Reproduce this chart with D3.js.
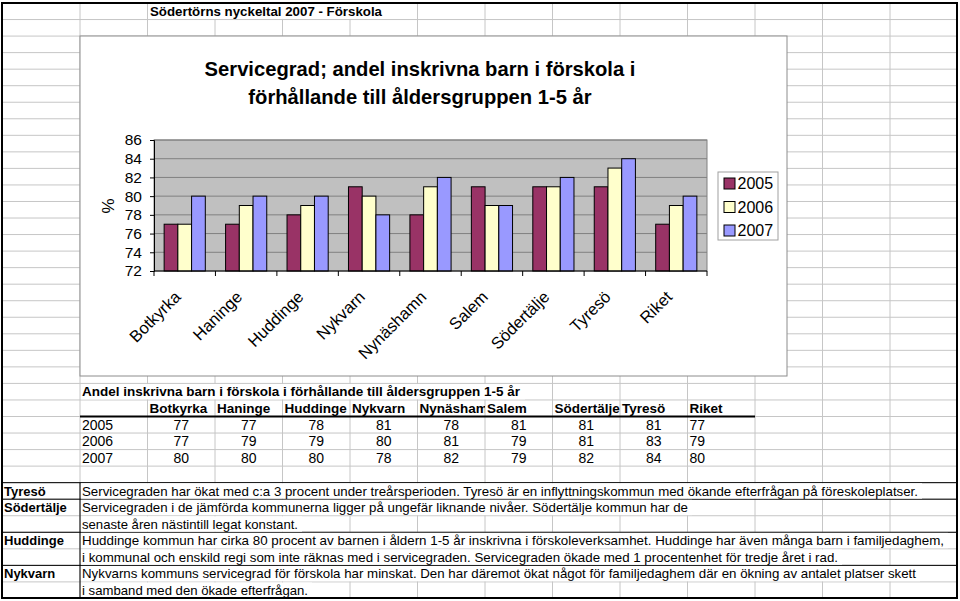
<!DOCTYPE html>
<html><head><meta charset="utf-8">
<script src="https://cdn.jsdelivr.net/npm/d3@7"></script>
<style>
body{margin:0;background:#fff}
svg text{font-family:"Liberation Sans",Arial,Helvetica,sans-serif;fill:#000}
</style>
</head><body>
<svg id="c" width="960" height="601"></svg>
<script>
// ---------- DATA ----------
const categories = ["Botkyrka","Haninge","Huddinge","Nykvarn","Nynäshamn","Salem","Södertälje","Tyresö","Riket"];
const tableHeaders = ["Botkyrka","Haninge","Huddinge","Nykvarn","Nynäsham","Salem","Södertälje","Tyresö","Riket"];
const years = ["2005","2006","2007"];
const values2005 = [77,77,78,81,78,81,81,81,77];
const values2006 = [77,79,79,80,81,79,81,83,79];
const values2007 = [80,80,80,78,82,79,82,84,80];
const yTicks = [72,74,76,78,80,82,84,86];
const seriesColors = ["#993366","#FFFFCC","#9999FF"];
const sheetTitle = "Södertörns nyckeltal 2007 - Förskola";
const chartTitle = ["Servicegrad; andel inskrivna barn i förskola i","förhållande till åldersgruppen 1-5 år"];
const tableTitle = "Andel inskrivna barn i förskola i förhållande till åldersgruppen 1-5 år";
const noteLabels = ["Tyresö","Södertälje","Huddinge","Nykvarn"];
const noteLines = [
  ["Servicegraden har ökat med c:a 3 procent under treårsperioden. Tyresö är en inflyttningskommun med ökande efterfrågan på föreskoleplatser."],
  ["Servicegraden i de jämförda kommunerna ligger på ungefär liknande nivåer. Södertälje kommun har de","senaste åren nästintill legat konstant."],
  ["Huddinge kommun har cirka 80 procent av barnen i åldern 1-5 år inskrivna i förskoleverksamhet. Huddinge har även många barn i familjedaghem,","i kommunal och enskild regi som inte räknas med i servicegraden. Servicegraden ökade med 1 procentenhet för tredje året i rad."],
  ["Nykvarns kommuns servicegrad för förskola har minskat. Den har däremot ökat något för familjedaghem där en ökning av antalet platser skett","i samband med den ökade efterfrågan."]
];
const noteWidths = [[836],[606,216],[862,756],[834,226]];

const svg = d3.select("#c");

// ---------- SPREADSHEET GRID ----------
const colW = 67.5, rowH = 16.54;
const colX = [2].concat(d3.range(0,14).map(k=>80+colW*k)).filter(x=>x<957);
const rowY = d3.range(0,37).map(k=>3+rowH*k).filter(y=>y<=599);
const grid = svg.append("g");
colX.forEach(x=>grid.append("line").attr("x1",x).attr("x2",x).attr("y1",3).attr("y2",598).attr("stroke","#c6c6c6"));
rowY.forEach(y=>grid.append("line").attr("x1",2).attr("x2",957).attr("y1",y).attr("y2",y).attr("stroke","#c6c6c6"));

function cover(x1,x2,r){ // hide vertical gridlines under overflowing text in row r
  svg.append("rect").attr("x",x1+1).attr("y",rowY[r]+0.6).attr("width",x2-x1-1).attr("height",rowH-1.2).attr("fill","#fff");
}
// sheet title row 0
cover(147.5,385,0);
svg.append("text").attr("x",150).attr("y",rowY[0]+13).attr("font-size",13.5).attr("font-weight","bold")
  .attr("textLength",232).attr("lengthAdjust","spacingAndGlyphs").text(sheetTitle);

// ---------- CHART OBJECT ----------
const chartBox = {x:80,y:36,w:707,h:340};
svg.append("rect").attr("x",chartBox.x).attr("y",chartBox.y).attr("width",chartBox.w).attr("height",chartBox.h)
  .attr("fill","#fff").attr("stroke","#8c8c8c");

const title = svg.append("text").attr("text-anchor","middle").attr("font-size",20.2).attr("font-weight","bold");
chartTitle.forEach((t,i)=>title.append("tspan").attr("x",420).attr("y",76+i*28).text(t));

const plot = {x:154,y:140,w:553,h:131};
const x0 = d3.scaleBand().domain(categories).range([plot.x,plot.x+plot.w]).paddingInner(0.33).paddingOuter(0.165);
const x1 = d3.scaleBand().domain(years).range([0,x0.bandwidth()]);
const y = d3.scaleLinear().domain([72,86]).range([plot.y+plot.h,plot.y]);

svg.append("rect").attr("x",plot.x).attr("y",plot.y).attr("width",plot.w).attr("height",plot.h)
  .attr("fill","#c0c0c0").attr("stroke","#808080");
svg.append("g").selectAll("line").data(yTicks.slice(1)).join("line")
  .attr("x1",plot.x).attr("x2",plot.x+plot.w).attr("y1",d=>y(d)).attr("y2",d=>y(d)).attr("stroke","#808080");

const series = [values2005,values2006,values2007];
const bars = svg.append("g");
categories.forEach((c,i)=>{
  years.forEach((yr,j)=>{
    bars.append("rect").attr("x",x0(c)+x1(yr)).attr("y",y(series[j][i]))
      .attr("width",x1.bandwidth()).attr("height",y(72)-y(series[j][i]))
      .attr("fill",seriesColors[j]).attr("stroke","#000").attr("stroke-width",1);
  });
});

// Y axis
const yAxis = svg.append("g").attr("transform",`translate(${plot.x},0)`)
  .call(d3.axisLeft(y).tickValues(yTicks).tickSize(4).tickPadding(8));
yAxis.select(".domain").attr("stroke","#000");
yAxis.selectAll(".tick line").attr("stroke","#000");
yAxis.selectAll("text").attr("font-size",15.5).attr("font-family","Liberation Sans, Arial, sans-serif");

// X axis
const step = plot.w/categories.length;
const xAxis = svg.append("g").attr("transform",`translate(0,${plot.y+plot.h})`);
xAxis.append("line").attr("x1",plot.x).attr("x2",plot.x+plot.w).attr("stroke","#000");
d3.range(0,categories.length+1).forEach(k=>xAxis.append("line").attr("x1",plot.x+k*step).attr("x2",plot.x+k*step).attr("y1",0).attr("y2",5).attr("stroke","#000"));
categories.forEach(c=>{
  const cx = x0(c)+x0.bandwidth()/2 - 3;
  svg.append("text").attr("transform",`translate(${cx},298) rotate(-45)`).attr("text-anchor","end")
    .attr("font-size",16.5).text(c);
});

svg.append("text").attr("transform","translate(114,206) rotate(-90)").attr("text-anchor","middle").attr("font-size",17).text("%");

// legend
const lg = svg.append("g");
lg.append("rect").attr("x",718).attr("y",172).attr("width",60).attr("height",68).attr("fill","#fff").attr("stroke","#a0a0a0");
years.forEach((yr,j)=>{
  const cy = 183.5 + j*23.5;
  lg.append("rect").attr("x",724).attr("y",cy-5.5).attr("width",11).attr("height",11).attr("fill",seriesColors[j]).attr("stroke","#000");
  lg.append("text").attr("x",737.5).attr("y",cy).attr("dy","0.36em").attr("font-size",16).text(yr);
});

// ---------- TABLE ----------
const tr0 = 23; // row index of table title
cover(80,525,tr0);
svg.append("text").attr("x",82).attr("y",rowY[tr0]+13).attr("font-size",13.5).attr("font-weight","bold").text(tableTitle);
// header row
const hdr = svg.append("g");
tableHeaders.forEach((h,i)=>{
  const cx = 147.5+colW*i;
  hdr.append("clipPath").attr("id","cl"+i).append("rect").attr("x",cx).attr("y",rowY[tr0+1]).attr("width",colW).attr("height",rowH);
  hdr.append("text").attr("clip-path",`url(#cl${i})`).attr("x",cx+2).attr("y",rowY[tr0+1]+13).attr("font-size",13.5).attr("font-weight","bold").text(h);
});
svg.append("line").attr("x1",80).attr("x2",755).attr("y1",rowY[tr0+2]).attr("y2",rowY[tr0+2]).attr("stroke","#000").attr("stroke-width",2);
series.forEach((vals,j)=>{
  const ry = rowY[tr0+2+j]+13;
  svg.append("text").attr("x",82).attr("y",ry).attr("font-size",14).text(years[j]);
  vals.forEach((v,i)=>{
    const cx = 147.5+colW*i;
    if(i===vals.length-1){
      svg.append("text").attr("x",cx+2).attr("y",ry).attr("font-size",14).text(v);
    } else {
      svg.append("text").attr("x",cx+colW/2).attr("y",ry).attr("text-anchor","middle").attr("font-size",14).text(v);
    }
  });
});

// ---------- NOTES ----------
let r = 29;
const bordersG = svg.append("g");
noteLabels.forEach((lab,g)=>{
  const top = rowY[r];
  noteLines[g].forEach((ln,k)=>{
    cover(80, 80+noteWidths[g][k]+6, r+k);
    svg.append("text").attr("x",82).attr("y",rowY[r+k]+13).attr("font-size",13)
      .attr("textLength",noteWidths[g][k]).attr("lengthAdjust","spacingAndGlyphs").text(ln);
  });
  svg.append("text").attr("x",4).attr("y",top+13).attr("font-size",13).attr("font-weight","bold").text(lab);
  bordersG.append("line").attr("x1",2).attr("x2",957).attr("y1",top).attr("y2",top).attr("stroke","#000");
  r += noteLines[g].length;
});
const bottomY = Math.min(rowY[r]||598, 598);
bordersG.append("line").attr("x1",80).attr("x2",80).attr("y1",rowY[29]).attr("y2",bottomY).attr("stroke","#000");

// outer border
svg.append("rect").attr("x",2).attr("y",3).attr("width",955).attr("height",bottomY-3).attr("fill","none").attr("stroke","#000").attr("stroke-width",2);
</script>
</body></html>
